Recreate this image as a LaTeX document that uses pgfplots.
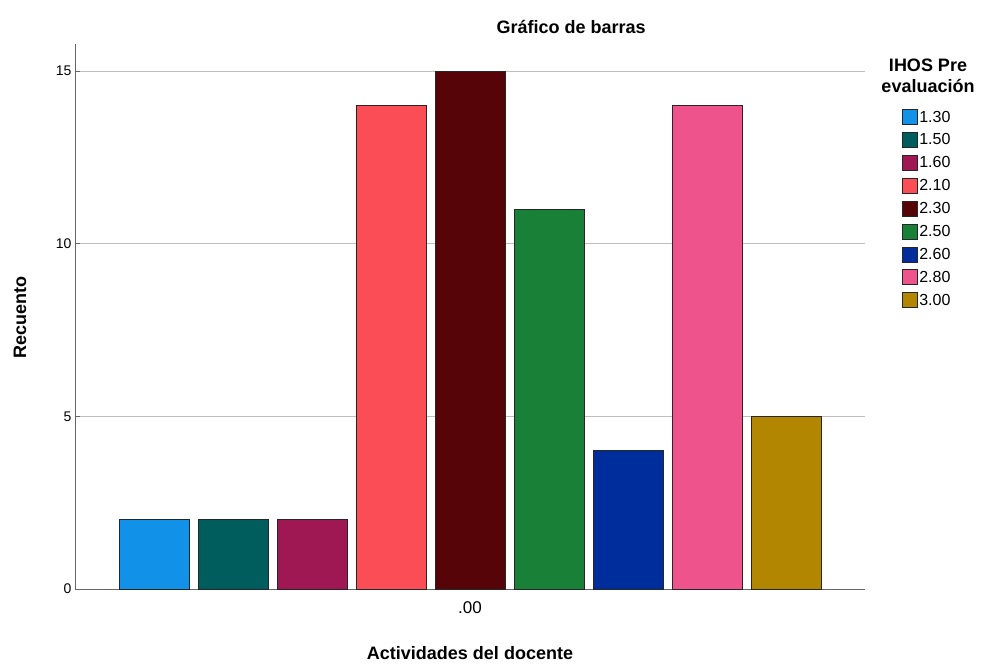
\documentclass[border=0pt]{standalone}
\usepackage{pgfplots}
\pgfplotsset{compat=1.18}
\usepackage{fontspec}
\setmainfont{Liberation Sans}

\definecolor{c130}{RGB}{17,146,232}
\definecolor{c150}{RGB}{0,93,93}
\definecolor{c160}{RGB}{159,24,83}
\definecolor{c210}{RGB}{250,77,86}
\definecolor{c230}{RGB}{87,4,8}
\definecolor{c250}{RGB}{25,128,56}
\definecolor{c260}{RGB}{0,45,156}
\definecolor{c280}{RGB}{238,83,139}
\definecolor{c300}{RGB}{178,134,0}
\definecolor{gridgray}{RGB}{190,190,190}

\begin{document}
\begin{tikzpicture}
\useasboundingbox (0pt,0pt) rectangle (990pt,664pt);
\begin{axis}[
  at={(75pt,75pt)}, anchor=south west,
  scale only axis, width=790pt, height=544.5pt,
  xmin=-1, xmax=9, ymin=0, ymax=15.77,
  ybar, bar width=70pt, bar shift=0pt,
  axis x line*=bottom, axis y line*=left,
  axis line style={draw=gray!80!black, line width=0.8pt},
  xtick={4}, xticklabels={.00},
  ytick={0,5,10,15},
  ymajorgrids, major grid style={draw=gridgray, line width=0.8pt},
  tick style={draw=gray!80!black, line width=0.6pt},
  major tick length=5pt,
  xtick style={draw=none},
  /pgf/number format/assume math mode=true,
  tick label style={font=\fontsize{14}{16}\selectfont},
  x tick label style={font=\fontsize{17}{19}\selectfont, yshift=-4pt},
  title={Gráfico de barras},
  title style={font=\bfseries\fontsize{18}{21}\selectfont, at={(axis description cs:0.628,1.021)}, anchor=center},
  xlabel={Actividades del docente},
  xlabel style={font=\bfseries\fontsize{18}{21}\selectfont, at={(axis description cs:0.5,-0.118)}, anchor=center},
  ylabel={Recuento},
  ylabel style={font=\bfseries\fontsize{18}{21}\selectfont, at={(axis description cs:-0.0696,0.498)}, anchor=center, rotate=0},
  legend style={at={(axis description cs:1.046,0.882)}, anchor=north west,
    draw=none, fill=none, font=\fontsize{16}{18}\selectfont,
    row sep=6.2pt, inner sep=0pt},
  legend cell align=left,
  legend image code/.code={\draw[#1, draw=black!85, line width=0.8pt] (0pt,-7.5pt) rectangle (15pt,7.5pt);},
  every axis plot/.append style={draw=black!85, line width=1pt},
]
\addplot[fill=c130] coordinates {(0,2)};
\addplot[fill=c150] coordinates {(1,2)};
\addplot[fill=c160] coordinates {(2,2)};
\addplot[fill=c210] coordinates {(3,14)};
\addplot[fill=c230] coordinates {(4,15)};
\addplot[fill=c250] coordinates {(5,11)};
\addplot[fill=c260] coordinates {(6,4)};
\addplot[fill=c280] coordinates {(7,14)};
\addplot[fill=c300] coordinates {(8,5)};
\legend{1.30,1.50,1.60,2.10,2.30,2.50,2.60,2.80,3.00}
\end{axis}
\node[font=\bfseries\fontsize{18}{21}\selectfont, align=center, anchor=center] at (928pt,588pt) {IHOS Pre\\evaluación};
\end{tikzpicture}
\end{document}
